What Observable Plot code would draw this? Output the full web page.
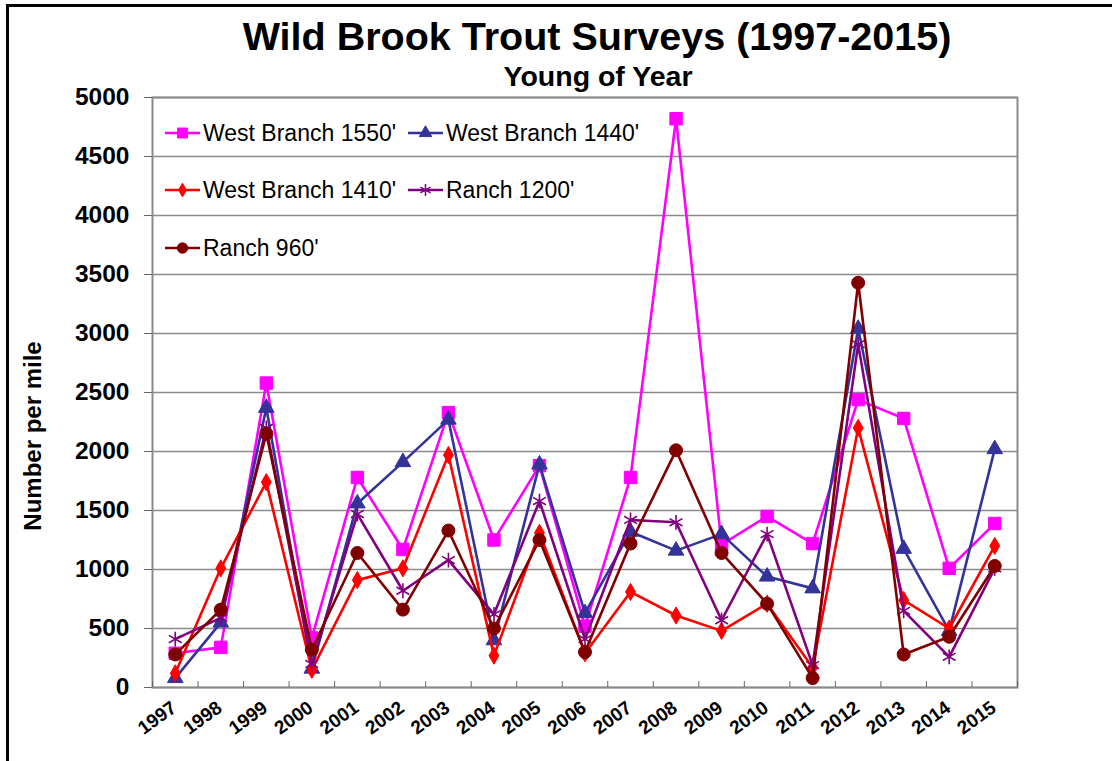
<!DOCTYPE html>
<html>
<head>
<meta charset="utf-8">
<script src="https://cdn.jsdelivr.net/npm/d3@7"></script>
<script src="https://cdn.jsdelivr.net/npm/@observablehq/plot@0.6"></script>
<style>
  html, body { margin: 0; padding: 0; background: #fff; }
  #wrap { position: relative; width: 1112px; height: 761px; overflow: hidden; font-family: "Liberation Sans", Arial, sans-serif; color: #000; }
  #border { position: absolute; left: 6px; top: 4px; width: 3000px; height: 3000px; border-left: 3px solid #000; border-top: 3px solid #000; box-sizing: border-box; }
  #header { position: relative; height: 87px; }
  .ttl { position: absolute; transform: translateX(-50%); white-space: nowrap; font-weight: bold; line-height: 1; }
  #title { left: 597px; top: 17px; font-size: 39.5px; }
  #subtitle { left: 598px; top: 62px; font-size: 28.5px; }
  #ylabel { position: absolute; left: 33px; top: 436px; transform: translate(-50%, -50%) rotate(-90deg); white-space: nowrap; font-weight: bold; font-size: 24px; line-height: 1; }
  .leg { position: absolute; display: flex; align-items: center; font-size: 23px; white-space: nowrap; line-height: 1; }
  .leg svg { display: block; margin-right: 3px; }
</style>
</head>
<body>
<div id="wrap">
  <div id="border"></div>
  <div id="header">
    <div id="title" class="ttl">Wild Brook Trout Surveys (1997-2015)</div>
    <div id="subtitle" class="ttl">Young of Year</div>
  </div>
  <div id="chart"></div>
  <div id="ylabel">Number per mile</div>
</div>
<script>
// ---- data ----
const years = [1997,1998,1999,2000,2001,2002,2003,2004,2005,2006,2007,2008,2009,2010,2011,2012,2013,2014,2015];
const seriesNames = ["West Branch 1550'", "West Branch 1440'", "West Branch 1410'", "Ranch 1200'", "Ranch 960'"];
const westBranch1550 = [290, 340, 2580, 420, 1780, 1170, 2330, 1250, 1880, 520, 1780, 4820, 1210, 1450, 1220, 2440, 2280, 1010, 1390];
const westBranch1440 = [80, 550, 2370, 160, 1560, 1910, 2270, 400, 1890, 630, 1320, 1160, 1300, 940, 840, 3040, 1175, 480, 2020];
const westBranch1410 = [120, 1010, 1740, 150, 910, 1010, 1970, 270, 1310, 290, 810, 610, 480, 710, 170, 2200, 740, 500, 1200];
const ranch1200 = [410, 590, 2200, 200, 1470, 820, 1080, 620, 1580, 410, 1420, 1400, 570, 1300, 190, 2910, 650, 260, 1010];
const ranch960 = [280, 660, 2150, 320, 1140, 660, 1330, 500, 1250, 300, 1220, 2010, 1140, 710, 80, 3430, 280, 430, 1030];
const yTicks = [0, 500, 1000, 1500, 2000, 2500, 3000, 3500, 4000, 4500, 5000];

// ---- styling (separate from data) ----
const seriesValues = [westBranch1550, westBranch1440, westBranch1410, ranch1200, ranch960];
const styles = {
  "West Branch 1550'": {color: "#ff00ff", symbol: "square", r: 7, filled: true},
  "West Branch 1440'": {color: "#333399", symbol: "triangle", r: 5.8, filled: true},
  "West Branch 1410'": {color: "#ff0000", symbol: "diamond", r: 5.2, filled: true},
  "Ranch 1200'": {color: "#800080", symbol: "asterisk", r: 7, filled: false},
  "Ranch 960'": {color: "#800000", symbol: "circle", r: 6.5, filled: true}
};

const table = [];
seriesNames.forEach((name, i) => {
  years.forEach((yr, j) => table.push({series: name, year: yr, value: seriesValues[i][j]}));
});

const bounds = d3.range(years.length + 1).map(i => years[0] - 0.5 + i);

const marks = [
  Plot.gridY(yTicks, {stroke: "#8a8a8a", strokeOpacity: 1, strokeWidth: 1.5}),
  Plot.frame({stroke: "#8a8a8a", strokeWidth: 2}),
  Plot.axisY(yTicks, {tickSize: 8, tickPadding: 15, fontSize: 24.5, fontWeight: "bold", stroke: "#666", color: "#000", tickFormat: d => String(d), label: null}),
  Plot.axisX(bounds, {tickSize: 6, dy: -6, tickFormat: () => "", stroke: "#666", label: null}),
  Plot.axisX(years, {tickSize: 0, tickPadding: 0, tickRotate: -36, textAnchor: "end", lineAnchor: "middle", dx: -1, dy: 18, fontSize: 19, fontWeight: "bold", tickFormat: d => String(d), label: null})
];

seriesNames.forEach(name => {
  const s = styles[name];
  const rows = table.filter(d => d.series === name);
  marks.push(Plot.line(rows, {x: "year", y: "value", stroke: s.color, strokeWidth: 2.6}));
  marks.push(Plot.dot(rows, {
    x: "year", y: "value", symbol: s.symbol, r: s.r,
    fill: s.filled ? s.color : "none", stroke: s.color, strokeWidth: s.filled ? 1 : 1.6
  }));
});

const chart = Plot.plot({
  width: 1112,
  height: 674,
  marginLeft: 152,
  marginRight: 95,
  marginTop: 10,
  marginBottom: 74,
  style: {fontFamily: "'Liberation Sans', Arial, sans-serif", color: "#000", background: "transparent", overflow: "visible"},
  x: {type: "linear", domain: [years[0] - 0.5, years[years.length - 1] + 0.5], axis: null},
  y: {domain: [0, 5000], axis: null},
  marks
});
// enforce the larger x tick label size
chart.querySelectorAll('g[aria-label="x-axis tick label"]').forEach(g => {
  g.setAttribute("font-size", 19);
  g.setAttribute("font-weight", "bold");
  g.querySelectorAll("text").forEach(t => { t.style.fontSize = "19px"; });
});
document.getElementById("chart").appendChild(chart);

// ---- legend (inside plot area, top-left) ----
const legendSlots = [
  {left: 165, top: 133}, {left: 408, top: 133},
  {left: 165, top: 190}, {left: 408, top: 190},
  {left: 165, top: 248}
];
const wrap = document.getElementById("wrap");
seriesNames.forEach((name, i) => {
  const s = styles[name];
  const slot = legendSlots[i];
  const div = document.createElement("div");
  div.className = "leg";
  div.style.left = slot.left + "px";
  div.style.top = (slot.top - 12) + "px";
  div.style.height = "24px";
  const ns = "http://www.w3.org/2000/svg";
  const svg = document.createElementNS(ns, "svg");
  svg.setAttribute("width", 35);
  svg.setAttribute("height", 24);
  const ln = document.createElementNS(ns, "line");
  ln.setAttribute("x1", 0); ln.setAttribute("x2", 35);
  ln.setAttribute("y1", 12); ln.setAttribute("y2", 12);
  ln.setAttribute("stroke", s.color); ln.setAttribute("stroke-width", 2.6);
  svg.appendChild(ln);
  const symType = {square: d3.symbolSquare, triangle: d3.symbolTriangle, diamond: d3.symbolDiamond, asterisk: d3.symbolAsterisk, circle: d3.symbolCircle}[s.symbol];
  const rr = s.r * 0.8;
  const p = document.createElementNS(ns, "path");
  p.setAttribute("d", d3.symbol(symType, Math.PI * rr * rr)());
  p.setAttribute("transform", "translate(17.5,12)");
  p.setAttribute("fill", s.filled ? s.color : "none");
  p.setAttribute("stroke", s.color);
  p.setAttribute("stroke-width", s.filled ? 1 : 1.5);
  svg.appendChild(p);
  div.appendChild(svg);
  const sp = document.createElement("span");
  sp.textContent = name;
  div.appendChild(sp);
  wrap.appendChild(div);
});
</script>
</body>
</html>
